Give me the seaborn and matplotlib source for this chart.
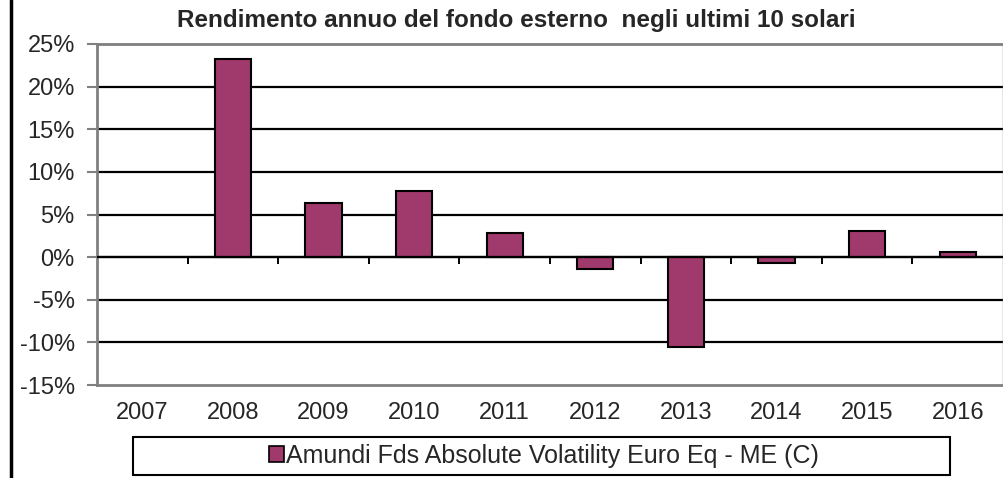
import numpy as np
import matplotlib
matplotlib.use('Agg')
from matplotlib import pyplot as plt
from matplotlib.patches import Rectangle
from matplotlib.lines import Line2D
import seaborn as sns

# data (annual return, %)
years = ['2007', '2008', '2009', '2010', '2011', '2012', '2013', '2014', '2015', '2016']
returns = [np.nan, 23.2, 6.35, 7.75, 2.85, -1.4, -10.6, -0.7, 3.1, 0.55]
y_ticks = [-15, -10, -5, 0, 5, 10, 15, 20, 25]
y_labels = [f'{t}%' for t in y_ticks]

title = 'Rendimento annuo del fondo esterno  negli ultimi 10 solari'
series_name = 'Amundi Fds Absolute Volatility Euro Eq - ME (C)'
bar_color = '#A0396C'

sns.set_style('white')
plt.rcParams['font.family'] = ['Liberation Sans', 'DejaVu Sans']

W, H = 1004, 478
fig = plt.figure(figsize=(W / 100, H / 100), dpi=100)
ax = fig.add_axes([97 / W, 1 - 385 / H, (1003 - 97) / W, (385 - 44) / H])

sns.barplot(x=years, y=returns, order=years, color=bar_color, saturation=1,
            width=0.4, edgecolor='black', linewidth=1.5, ax=ax)

ax.set_ylim(-15, 25)
ax.set_xlim(-0.5, len(years) - 0.5)
ax.set_yticks(y_ticks)
ax.set_yticklabels(y_labels)

# gridlines and zero line
for t in y_ticks[1:-1]:
    ax.axhline(t, color='black', lw=1.6, zorder=0)
ax.axhline(0, color='black', lw=1.6, zorder=3)
# small ticks on the zero line between categories
ax.vlines(np.arange(0.5, len(years) - 0.5), -0.85, 0, color='black', lw=1.4, zorder=3)

for s in ax.spines.values():
    s.set_color('#808080')
    s.set_linewidth(2)
ax.spines['right'].set_linewidth(1)

ax.tick_params(axis='y', direction='out', length=7, width=1.5, color='#808080',
               pad=9, labelsize=17, left=True)
ax.tick_params(axis='x', length=0, pad=12, labelsize=17)
ax.set_xlabel('')
ax.set_ylabel('')

fig.text(516 / W, 1 - 20 / H, title, ha='center', va='center',
         fontsize=17.5, fontweight='bold')

# legend with a wide Excel-like box
fig.patches.append(Rectangle((133 / W, 1 - 475 / H), (950 - 133) / W, 38 / H,
                             transform=fig.transFigure, fill=False,
                             edgecolor='black', lw=1.5))
handle = Rectangle((0, 0), 1, 1, facecolor=bar_color, edgecolor='black', lw=1.2)
fig.legend([handle], [series_name], loc='center', bbox_to_anchor=(544 / W, 1 - 456 / H),
           frameon=False, fontsize=18, handlelength=0.6, handleheight=0.6,
           handletextpad=0.1, borderpad=0)

# left border of the picture
fig.lines.append(Line2D([11 / W, 11 / W], [0, 1], transform=fig.transFigure,
                        color='black', lw=2.5))

fig.savefig('out.png', dpi=100)
